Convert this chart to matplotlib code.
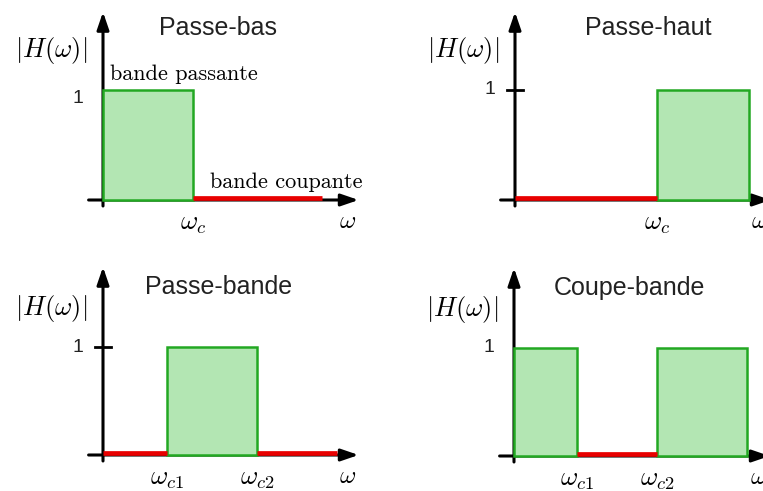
import matplotlib
matplotlib.use("Agg")
import matplotlib.pyplot as plt

plt.rcParams['mathtext.fontset'] = 'cm'

# donnees des 4 filtres (omega_c = 1 pour le passe-bas)
titres = ['Passe-bas', 'Passe-haut', 'Passe-bande', 'Coupe-bande']
bandes_passantes = [[(0.0, 1.0)], [(1.58, 2.6)], [(0.71, 1.71)], [(0.0, 0.7), (1.59, 2.59)]]
bandes_coupantes = [[(1.0, 2.43)], [(0.0, 1.58)], [(0.0, 0.71), (1.71, 2.6)], [(0.7, 1.59)]]
ticks_x = [[1.0], [1.58], [0.71, 1.71], [0.7, 1.59]]
labels_x = [[r'$\omega_c$'], [r'$\omega_c$'], [r'$\omega_{c1}$', r'$\omega_{c2}$'],
            [r'$\omega_{c1}$', r'$\omega_{c2}$']]
tick_1 = [False, True, True, False]

# position des origines en pixels (x, y depuis le haut) et echelle verticale
origines = [(103, 200), (515, 200), (103, 455), (514, 456)]
echelle_y = [110, 110, 108, 108]
echelle_x = 90

W, H = 763, 491
fig = plt.figure(figsize=(W / 100, H / 100), dpi=100)

vert = '#22a822'
remplissage = '#b3e6b3'
rouge = '#e80000'
fleche = '-|>,head_length=1.05,head_width=0.36'

for k in range(4):
    ox, oy = origines[k]
    sy = echelle_y[k]
    ax = fig.add_axes([(ox - 100) / W, (H - (oy + 40)) / H, 370 / W, 230 / H])
    ax.set_xlim(-100 / echelle_x, 270 / echelle_x)
    ax.set_ylim(-40 / sy, 190 / sy)
    ax.axis('off')

    # bandes passantes
    for (a, b) in bandes_passantes[k]:
        ax.bar(a, 1, width=b - a, align='edge', facecolor=remplissage,
               edgecolor=vert, linewidth=1.8, zorder=3)
    # bandes coupantes
    for (a, b) in bandes_coupantes[k]:
        ax.plot([a, b], [0.014, 0.014], color=rouge, lw=3.4, zorder=4,
                solid_capstyle='butt')

    # axes avec fleches
    ax.annotate('', xy=(2.84, 0), xytext=(-0.16, 0), annotation_clip=False,
                arrowprops=dict(arrowstyle=fleche, lw=2.2, color='black',
                                shrinkA=0, shrinkB=0), zorder=2)
    ax.annotate('', xy=(0, 188 / sy), xytext=(0, -6 / sy), annotation_clip=False,
                arrowprops=dict(arrowstyle=fleche, lw=2.2, color='black',
                                shrinkA=0, shrinkB=0), zorder=2)
    if tick_1[k]:
        ax.plot([-0.09, 0.09], [1, 1], color='black', lw=2, zorder=2)

    ax.text(-0.22, 1.0 if k else 0.92, '1', ha='right', va='center',
            fontsize=14, family='Liberation Sans', color='#222222')
    ax.text(-0.58, 1.36, r'$|H(\omega)|$', ha='center', va='center', fontsize=19)
    ax.text(1.28 if k != 1 else 1.48, 1.56, titres[k], ha='center', va='center',
            fontsize=18, family='Liberation Sans', color='#222222')

    for xt, lab in zip(ticks_x[k], labels_x[k]):
        ax.text(xt, -0.21, lab, ha='center', va='center', fontsize=19)
    ax.text(2.72, -0.19, r'$\omega$', ha='center', va='center', fontsize=18)

    if k == 0:
        ax.text(0.08, 1.14, 'bande passante', ha='left', va='center',
                fontsize=16, family='cmr10')
        ax.text(1.19, 0.16, 'bande coupante', ha='left', va='center',
                fontsize=16, family='cmr10')

fig.savefig('out.png', dpi=100)
